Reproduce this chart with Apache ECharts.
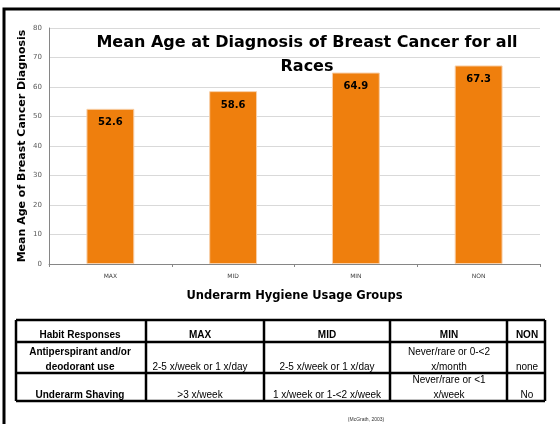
<!DOCTYPE html>
<html>
<head>
<meta charset="utf-8">
<script src="https://cdn.jsdelivr.net/npm/echarts@6/dist/echarts.min.js"></script>
<style>
  html, body { margin: 0; padding: 0; background: #fff; }
  #chart { width: 560px; height: 424px; }
</style>
</head>
<body>
<div id="chart"></div>
<script>
// chart data
const groups = ['MAX', 'MID', 'MIN', 'NON'];
const meanAge = [52.6, 58.6, 64.9, 67.3];
const yTicks = { min: 0, max: 80, step: 10 };

// table under the chart
const tableHeader = ['Habit Responses', 'MAX', 'MID', 'MIN', 'NON'];
const rowAntiperspirant = ['Antiperspirant and/or\ndeodorant use', '2-5 x/week or 1 x/day', '2-5 x/week or 1 x/day', 'Never/rare or 0-<2\nx/month', 'none'];
const rowShaving = ['Underarm Shaving', '>3 x/week', '1 x/week or 1-<2 x/week', 'Never/rare or <1\nx/week', 'No'];
const citation = '(McGrath, 2003)';

const FONT = 'DejaVu Sans';
const TFONT = 'Liberation Sans';

// table layout
const colX = [16, 146, 264, 390, 507, 545];
const rowY = [320, 342, 373, 401];
const textCx = [80, 200, 327, 449, 527];

const graphic = [];
// outer frame
graphic.push({
  type: 'rect',
  shape: { x: 4, y: 9, width: 640, height: 520 },
  style: { fill: 'none', stroke: '#000', lineWidth: 3 }
});
// table grid lines
rowY.forEach(y => {
  graphic.push({
    type: 'line',
    shape: { x1: colX[0], y1: y, x2: colX[colX.length - 1], y2: y },
    style: { stroke: '#000', lineWidth: 2.5 }
  });
});
colX.forEach(x => {
  graphic.push({
    type: 'line',
    shape: { x1: x, y1: rowY[0], x2: x, y2: rowY[rowY.length - 1] },
    style: { stroke: '#000', lineWidth: 2.5 }
  });
});

function addRow(cells, bottomY, bold) {
  cells.forEach((txt, i) => {
    graphic.push({
      type: 'text',
      x: textCx[i],
      y: bottomY,
      style: {
        text: txt,
        align: 'center',
        verticalAlign: 'bottom',
        font: (bold || i === 0 ? 'bold ' : '') + '10px "' + TFONT + '"',
        lineHeight: 15,
        fill: '#000'
      }
    });
  });
}
addRow(tableHeader, rowY[1] + 1, true);
addRow(rowAntiperspirant, rowY[2] + 1.5, false);
addRow(rowShaving, rowY[3] + 1.5, false);

graphic.push({
  type: 'text',
  x: 366,
  y: 420,
  style: { text: citation, align: 'center', verticalAlign: 'middle', font: '5px "' + TFONT + '"', fill: '#333' }
});

const chart = echarts.init(document.getElementById('chart'));
chart.setOption({
  animation: false,
  title: {
    text: 'Mean Age at Diagnosis of Breast Cancer for all\nRaces',
    left: 302,
    top: 26,
    textAlign: 'center',
    textStyle: { fontFamily: FONT, fontWeight: 'bold', fontSize: 16, lineHeight: 24, color: '#000' }
  },
  grid: { left: 49, right: 20, top: 28, bottom: 160 },
  xAxis: {
    type: 'category',
    data: groups,
    name: 'Underarm Hygiene Usage Groups',
    nameLocation: 'middle',
    nameGap: 26,
    nameTextStyle: { fontFamily: FONT, fontWeight: 'bold', fontSize: 11.5, color: '#000' },
    axisLine: { lineStyle: { color: '#868686', width: 1 } },
    axisTick: { show: true, length: 3, interval: 0, lineStyle: { color: '#868686' } },
    axisLabel: { fontFamily: FONT, fontSize: 6, color: '#404040', margin: 9 }
  },
  yAxis: {
    type: 'value',
    min: yTicks.min,
    max: yTicks.max,
    interval: yTicks.step,
    name: 'Mean Age of Breast Cancer Diagnosis',
    nameLocation: 'middle',
    nameGap: 21,
    nameMoveOverlap: false,
    nameTextStyle: { fontFamily: FONT, fontWeight: 'bold', fontSize: 11, color: '#000' },
    axisLine: { show: true, lineStyle: { color: '#868686', width: 1 } },
    axisTick: { show: false },
    axisLabel: { fontFamily: FONT, fontSize: 7, color: '#595959', margin: 7 },
    splitLine: { lineStyle: { color: '#D9D9D9', width: 1 } }
  },
  series: [{
    type: 'bar',
    data: meanAge,
    barWidth: '39%',
    itemStyle: { color: '#EF7F0D', borderColor: '#F8CFA8', borderWidth: 1 },
    label: {
      show: true,
      position: 'insideTop',
      distance: 9,
      fontFamily: FONT,
      fontWeight: 'bold',
      fontSize: 10,
      color: '#000'
    }
  }],
  graphic: graphic
});
</script>
</body>
</html>
